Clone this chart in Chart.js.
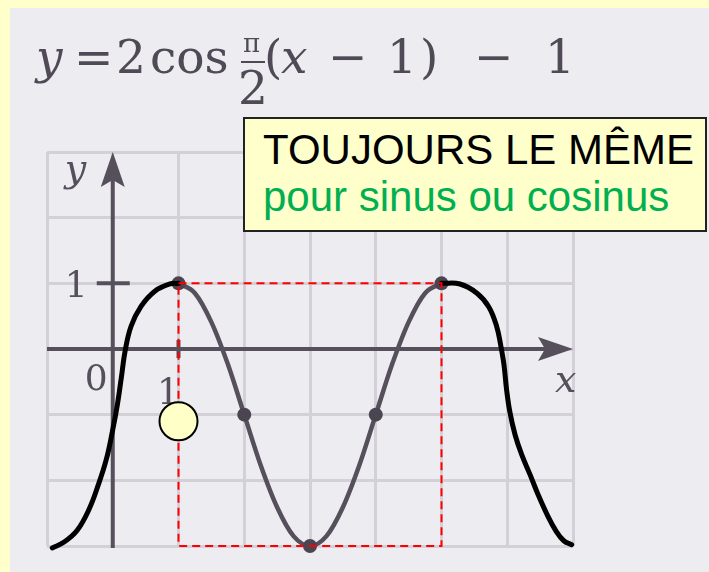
<!DOCTYPE html>
<html>
<head>
<meta charset="utf-8">
<script src="https://cdn.jsdelivr.net/npm/chart.js@4.4.0/dist/chart.umd.min.js"></script>
<style>
html, body { margin: 0; padding: 0; }
body { width: 709px; height: 572px; background: #FFFFCC; position: relative; overflow: hidden; font-family: "DejaVu Serif", serif; }
#scan { position: absolute; left: 10px; top: 8px; right: 0; bottom: 0; background: #EDECF1; }
#graph { position: absolute; left: 0; top: 0; }
.t { position: absolute; color: #4f4a55; font-size: 47px; line-height: 1; white-space: pre; top: 33px; }
.i { font-style: italic; }
.bar { position: absolute; left: 241px; top: 61px; width: 24px; height: 2px; background: #4f4a55; }
.note { position: absolute; left: 243px; top: 117px; width: 460px; height: 111px; background: #FFFFCC; border: 2px solid #222; }
.line { position: absolute; font-family: "Liberation Sans", Arial, sans-serif; font-size: 42px; line-height: 1; white-space: pre; }
</style>
</head>
<body>
<div id="scan"></div>
<canvas id="graph" width="709" height="572"></canvas>

<!-- équation -->
<div class="t i" style="left:36px">y</div>
<div class="t" style="left:74px">=</div>
<div class="t" style="left:116px">2</div>
<div class="t" style="left:150px">cos</div>
<div class="t" style="left:243px;top:30px;font-size:26px">π</div>
<div class="bar"></div>
<div class="t" style="left:238px;top:64px">2</div>
<div class="t" style="left:264px">(</div>
<div class="t i" style="left:281px">x</div>
<div class="t" style="left:328px">−</div>
<div class="t" style="left:387px">1</div>
<div class="t" style="left:420px">)</div>
<div class="t" style="left:474px">−</div>
<div class="t" style="left:545px">1</div>

<div class="note"></div>
<div class="line" style="left:263px;top:129px;color:#000">TOUJOURS LE MÊME</div>
<div class="line" style="left:263px;top:176px;color:#00B050">pour sinus ou cosinus</div>

<script>
// courbe y = 2 cos(pi/2 (x - 1)) - 1 sur une période
const curveX = [1, 1.25, 1.5, 1.75, 2, 2.25, 2.5, 2.75, 3, 3.25, 3.5, 3.75, 4, 4.25, 4.5, 4.75, 5];
const curveY = [1, 0.85, 0.41, -0.23, -1, -1.77, -2.41, -2.85, -3, -2.85, -2.41, -1.77, -1, -0.23, 0.41, 0.85, 1];

// points remarquables
const keyX = [1, 2, 3, 4, 5];
const keyY = [1, -1, -3, -1, 1];

// prolongements tracés à la main
const leftX = [-0.92, -0.74, -0.54, -0.36, -0.22, -0.1, -0.01, 0.07, 0.13, 0.19, 0.28, 0.43, 0.64, 0.87, 1];
const leftY = [-3.03, -2.94, -2.76, -2.44, -2.07, -1.69, -1.28, -0.85, -0.44, -0.02, 0.35, 0.65, 0.88, 0.99, 1];
const rightX = [5, 5.28, 5.54, 5.72, 5.84, 5.9, 5.95, 5.99, 6.04, 6.12, 6.22, 6.35, 6.47, 6.61, 6.74, 6.86, 6.98];
const rightY = [1, 0.99, 0.85, 0.64, 0.34, 0.06, -0.24, -0.62, -0.96, -1.31, -1.61, -1.92, -2.22, -2.53, -2.77, -2.92, -2.98];

// cadre d'une période
const boxX = [1, 5, 5, 1, 1];
const boxY = [1, 1, -3, -3, 1];

// repère jaune
const markX = [1];
const markY = [-1.1];

const ink = '#55505b';

function pts(xs, ys) {
    return xs.map((v, i) => ({ x: v, y: ys[i] }));
}

// axes fléchés, graduations et étiquettes
const axesPlugin = {
    id: 'axes',
    beforeDatasetsDraw(chart) {
        const { ctx, scales: { x, y } } = chart;
        const x0 = x.getPixelForValue(0);
        const y0 = y.getPixelForValue(0);
        const xEnd = x.getPixelForValue(7);
        const yTop = y.getPixelForValue(3);
        ctx.save();
        ctx.strokeStyle = ink;
        ctx.fillStyle = ink;
        ctx.lineWidth = 4;
        ctx.beginPath();
        ctx.moveTo(x.getPixelForValue(-1), y0);
        ctx.lineTo(xEnd - 25, y0);
        ctx.moveTo(x0, y.getPixelForValue(-3) + 2);
        ctx.lineTo(x0, yTop + 25);
        // graduations
        ctx.moveTo(x0 - 16, y.getPixelForValue(1));
        ctx.lineTo(x0 + 17, y.getPixelForValue(1));
        ctx.moveTo(x.getPixelForValue(1), y0 - 9);
        ctx.lineTo(x.getPixelForValue(1), y0 + 9);
        ctx.stroke();
        // pointes de flèche
        ctx.beginPath();
        ctx.moveTo(xEnd, y0);
        ctx.lineTo(xEnd - 35, y0 - 12);
        ctx.lineTo(xEnd - 28, y0);
        ctx.lineTo(xEnd - 35, y0 + 12);
        ctx.closePath();
        ctx.fill();
        ctx.beginPath();
        ctx.moveTo(x0, yTop);
        ctx.lineTo(x0 - 12, yTop + 35);
        ctx.lineTo(x0, yTop + 28);
        ctx.lineTo(x0 + 12, yTop + 35);
        ctx.closePath();
        ctx.fill();
        // étiquettes
        ctx.font = '36px "DejaVu Serif"';
        ctx.textBaseline = 'alphabetic';
        ctx.textAlign = 'right';
        ctx.fillText('0', x0 - 5, y0 + 41);
        ctx.fillText('1', x0 - 25, y.getPixelForValue(1) + 14);
        ctx.textAlign = 'center';
        ctx.fillText('1', x.getPixelForValue(1) - 10, y0 + 55);
        ctx.font = 'italic 38px "DejaVu Serif"';
        ctx.textAlign = 'left';
        ctx.fillText('y', x0 - 48, yTop + 29);
        ctx.fillText('x', xEnd - 18, y0 + 43);
        ctx.restore();
    }
};

const common = { showLine: true, pointRadius: 0, clip: false, fill: false };

new Chart(document.getElementById('graph'), {
    type: 'scatter',
    data: {
        datasets: [
            { data: pts(markX, markY), showLine: false, pointRadius: 19, pointHoverRadius: 19,
              backgroundColor: '#FFFFC8', borderColor: '#000', borderWidth: 2, clip: false, order: 0 },
            { ...common, data: pts(boxX, boxY), borderColor: '#FF0000', borderWidth: 2,
              borderDash: [8, 5], tension: 0, order: 1 },
            { ...common, data: pts(leftX, leftY), borderColor: '#000', borderWidth: 5,
              tension: 0.4, borderCapStyle: 'round', borderJoinStyle: 'round', order: 2 },
            { ...common, data: pts(rightX, rightY), borderColor: '#000', borderWidth: 5,
              tension: 0.4, borderCapStyle: 'round', borderJoinStyle: 'round', order: 2 },
            { data: pts(keyX, keyY), showLine: false, pointRadius: 7, backgroundColor: '#4a4550',
              borderColor: '#4a4550', borderWidth: 0, clip: false, order: 3 },
            { ...common, data: pts(curveX, curveY), borderColor: ink, borderWidth: 4.5,
              cubicInterpolationMode: 'monotone', order: 4 }
        ]
    },
    options: {
        responsive: false,
        animation: false,
        layout: { padding: { left: 47, right: 136, top: 152, bottom: 26 } },
        plugins: { legend: { display: false }, tooltip: { enabled: false } },
        scales: {
            x: {
                type: 'linear', min: -1, max: 7,
                ticks: { display: false, stepSize: 1 },
                grid: { color: '#D3D0D8', lineWidth: 3, drawTicks: false },
                border: { display: false }
            },
            y: {
                min: -3, max: 3,
                ticks: { display: false, stepSize: 1 },
                grid: { color: '#D3D0D8', lineWidth: 3, drawTicks: false },
                border: { display: false }
            }
        }
    },
    plugins: [axesPlugin]
});
</script>
</body>
</html>
